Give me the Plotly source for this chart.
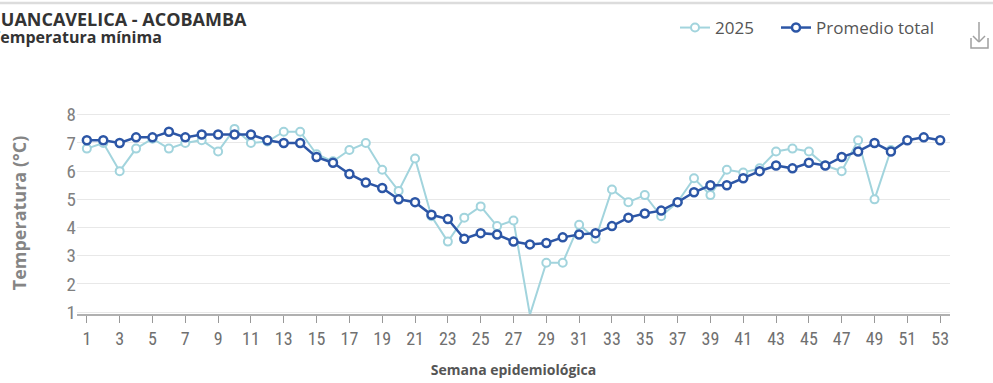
import plotly.graph_objects as go

weeks = list(range(1, 54))
weeks_2025 = list(range(1, 51))

temp_2025 = [6.8, 7.0, 6.0, 6.8, 7.15, 6.8, 7.0, 7.1, 6.7, 7.5,
             7.0, 7.05, 7.4, 7.4, 6.6, 6.35, 6.75, 7.0, 6.05, 5.3,
             6.45, 4.4, 3.5, 4.35, 4.75, 4.05, 4.25, 0.9, 2.75, 2.75,
             4.1, 3.6, 5.35, 4.9, 5.15, 4.4, 4.9, 5.75, 5.15, 6.05,
             5.95, 6.1, 6.7, 6.8, 6.7, 6.2, 6.0, 7.1, 5.0, 6.75]

temp_prom = [7.1, 7.1, 7.0, 7.2, 7.2, 7.4, 7.2, 7.3, 7.3, 7.3,
             7.3, 7.1, 7.0, 7.0, 6.5, 6.3, 5.9, 5.6, 5.4, 5.0,
             4.9, 4.45, 4.3, 3.6, 3.8, 3.75, 3.5, 3.4, 3.45, 3.65,
             3.75, 3.8, 4.05, 4.35, 4.5, 4.6, 4.9, 5.25, 5.5, 5.5,
             5.75, 6.0, 6.2, 6.1, 6.3, 6.2, 6.5, 6.7, 7.0, 6.7,
             7.1, 7.2, 7.1]

x_ticks = list(range(1, 54, 2))
y_ticks = [1, 2, 3, 4, 5, 6, 7, 8]

LIGHT = "#a2d4dd"
DARK = "#2c56a6"
NARROW = "Liberation Sans Narrow, Roboto Condensed, Roboto, sans-serif"
TITLEF = "Open Sans, sans-serif"

L, R, T, B = 77, 43, 112, 69
PW = 993 - L - R
PH = 383 - T - B


def px(xp):
    return (xp - L) / PW


def py(yp):
    return (383 - B - yp) / PH


fig = go.Figure()
fig.add_trace(go.Scatter(
    x=weeks_2025, y=temp_2025, name="2025", mode="lines+markers",
    line=dict(color=LIGHT, width=2),
    marker=dict(symbol="circle", size=8, color="white", line=dict(color=LIGHT, width=2)),
    cliponaxis=False, legend="legend",
))
fig.add_trace(go.Scatter(
    x=weeks, y=temp_prom, name="Promedio total", mode="lines+markers",
    line=dict(color=DARK, width=2.5),
    marker=dict(symbol="circle", size=8, color="white", line=dict(color=DARK, width=2.5)),
    cliponaxis=False, legend="legend2",
))

legend_font = dict(family=TITLEF, size=17, color="#555555")

fig.update_layout(
    width=993, height=383,
    margin=dict(l=L, r=R, t=T, b=B, autoexpand=False),
    paper_bgcolor="white", plot_bgcolor="white",
    showlegend=True,
    legend=dict(orientation="h", x=px(675), y=py(28), xanchor="left", yanchor="middle",
                font=legend_font, bgcolor="rgba(0,0,0,0)"),
    legend2=dict(orientation="h", x=px(776), y=py(28), xanchor="left", yanchor="middle",
                 font=legend_font, bgcolor="rgba(0,0,0,0)"),
    xaxis=dict(range=[0.4, 53.6], tickmode="array", tickvals=x_ticks,
               ticktext=[str(v) for v in x_ticks],
               showgrid=False, zeroline=False, showline=True, linecolor="#b0b0b0", linewidth=2,
               ticks="outside", ticklen=7, tickcolor="#999999", tickwidth=1,
               tickfont=dict(family=NARROW, size=18, color="#707070"),
               title=dict(text="<b>Semana epidemiológica</b>", standoff=18,
                          font=dict(family=TITLEF, size=14, color="#555555"))),
    yaxis=dict(range=[0.93, 8.1], tickmode="array", tickvals=y_ticks,
               showgrid=True, gridcolor="#e8e8e8", gridwidth=1, zeroline=False,
               ticks="", tickfont=dict(family=NARROW, size=19, color="#808080"),
               title=dict(text="<b>Temperatura (°C)</b>", standoff=35,
                          font=dict(family=TITLEF, size=18, color="#858585"))),
)

# title (cropped at left edge like the reference)
fig.add_annotation(xref="paper", yref="paper", x=px(-15), y=py(19), xanchor="left", yanchor="middle",
                   text="<b>HUANCAVELICA - ACOBAMBA</b>", showarrow=False,
                   font=dict(family=TITLEF, size=18, color="#333333"))
fig.add_annotation(xref="paper", yref="paper", x=px(-11), y=py(37), xanchor="left", yanchor="middle",
                   text="<b>Temperatura mínima</b>", showarrow=False,
                   font=dict(family=TITLEF, size=16, color="#333333"))

# top border of the card
fig.add_shape(type="line", xref="paper", yref="paper", x0=px(0), x1=px(993), y0=py(3), y1=py(3),
              line=dict(color="#dcdcdc", width=2.5), layer="above")

# download icon
icon = dict(color="#a0a0a0", width=1.5)
fig.add_shape(type="line", xref="paper", yref="paper", x0=px(979), x1=px(979), y0=py(22), y1=py(42), line=icon)
fig.add_shape(type="line", xref="paper", yref="paper", x0=px(973), x1=px(979), y0=py(36), y1=py(42), line=icon)
fig.add_shape(type="line", xref="paper", yref="paper", x0=px(985), x1=px(979), y0=py(36), y1=py(42), line=icon)
fig.add_shape(type="path", xref="paper", yref="paper",
              path=f"M {px(971)} {py(38)} L {px(971)} {py(48)} L {px(988)} {py(48)} L {px(988)} {py(38)}",
              line=icon)

fig.write_html("out.html", config={"displayModeBar": False},
               post_script="document.body.style.margin='0';document.body.style.overflow='hidden';")
